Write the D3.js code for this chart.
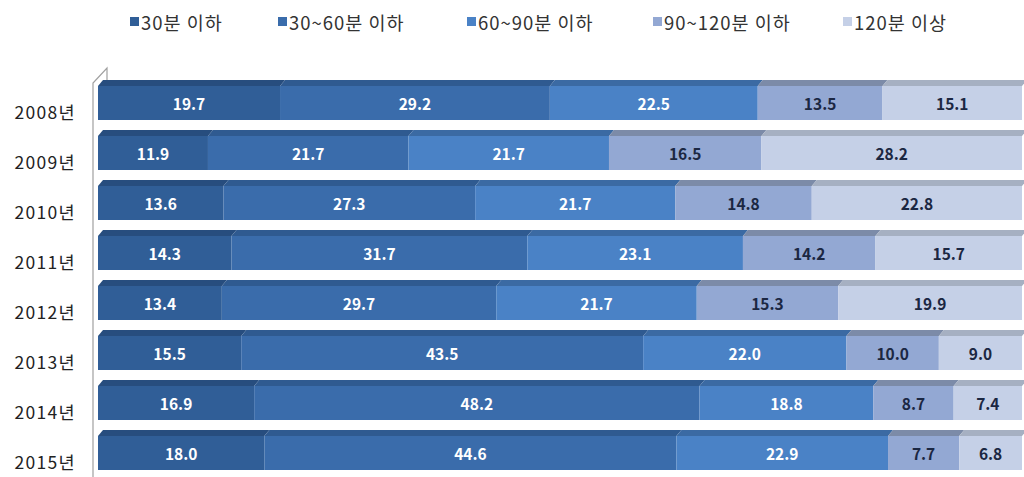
<!DOCTYPE html>
<html>
<head>
<meta charset="utf-8">
<script src="https://cdn.jsdelivr.net/npm/d3@7"></script>
<style>
  body { margin: 0; background: #fff; }
  #chart { width: 1024px; height: 477px; }
  text { font-family: "Noto Sans CJK KR", "Noto Sans", sans-serif; }
</style>
</head>
<body>
<div id="chart"></div>
<script>
const years = ['2008년', '2009년', '2010년', '2011년', '2012년', '2013년', '2014년', '2015년'];
const seriesNames = ['30분 이하', '30~60분 이하', '60~90분 이하', '90~120분 이하', '120분 이상'];
const under30 = [19.7, 11.9, 13.6, 14.3, 13.4, 15.5, 16.9, 18.0];
const from30to60 = [29.2, 21.7, 27.3, 31.7, 29.7, 43.5, 48.2, 44.6];
const from60to90 = [22.5, 21.7, 21.7, 23.1, 21.7, 22.0, 18.8, 22.9];
const from90to120 = [13.5, 16.5, 14.8, 14.2, 15.3, 10.0, 8.7, 7.7];
const over120 = [15.1, 28.2, 22.8, 15.7, 19.9, 9.0, 7.4, 6.8];

const frontCol = ['#305e97', '#3a6cab', '#4a82c6', '#93a8d3', '#c5d0e7'];
const topCol = ['#274d7e', '#2f5a90', '#3b6aa3', '#7c8ba8', '#a6b0c2'];
const labelCol = ['#ffffff', '#ffffff', '#ffffff', '#1b2742', '#1b2742'];

const seriesList = [under30, from30to60, from60to90, from90to120, over120];
const table = years.map((y, i) => {
  const row = { year: y };
  seriesList.forEach((s, k) => row[seriesNames[k]] = s[i]);
  return row;
});
// 100% stacked: each year is scaled to the full width
const stacked = d3.stack().keys(seriesNames).offset(d3.stackOffsetExpand)(table);

const svg = d3.select('#chart').append('svg')
  .attr('width', 1024).attr('height', 477);

const xScale = d3.scaleLinear().domain([0, 1]).range([98, 1022]);
const yScale = d3.scaleBand().domain(years).range([78, 478]).paddingInner(0.32).paddingOuter(0.16);
const depthX = 5, depthY = 6;

// back wall
svg.append('path')
  .attr('d', 'M93,477 L93,83 L107,68 L107,80')
  .attr('stroke', '#a0a0a0').attr('fill', 'none').attr('stroke-width', 1.2);

// year labels
svg.append('g').selectAll('text')
  .data(years)
  .join('text')
    .attr('x', 76)
    .attr('y', d => yScale(d) + yScale.bandwidth() / 2 + 8)
    .attr('text-anchor', 'end')
    .attr('dominant-baseline', 'central')
    .attr('font-size', 17.5)
    .attr('letter-spacing', 1.3)
    .attr('fill', '#222')
    .text(d => d);

const groups = svg.append('g').selectAll('g')
  .data(stacked)
  .join('g');

const cells = (s, k) => s.map((d, i) => ({ d, k, year: d.data.year, value: seriesList[k][i] }));

// top faces
groups.selectAll('path.top')
  .data(cells)
  .join('path')
    .attr('class', 'top')
    .attr('fill', o => topCol[o.k])
    .attr('d', o => {
      const x0 = xScale(o.d[0]), x1 = xScale(o.d[1]);
      const y = yScale(o.year);
      return `M${x0},${y} L${x0 + depthX},${y - depthY} L${x1 + depthX},${y - depthY} L${x1},${y} Z`;
    });

// front faces
groups.selectAll('rect')
  .data(cells)
  .join('rect')
    .attr('x', o => xScale(o.d[0]))
    .attr('y', o => yScale(o.year))
    .attr('width', o => xScale(o.d[1]) - xScale(o.d[0]))
    .attr('height', yScale.bandwidth())
    .attr('fill', o => frontCol[o.k]);

// value labels
groups.selectAll('text')
  .data(cells)
  .join('text')
    .attr('x', o => (xScale(o.d[0]) + xScale(o.d[1])) / 2)
    .attr('y', o => yScale(o.year) + yScale.bandwidth() / 2)
    .attr('text-anchor', 'middle')
    .attr('dominant-baseline', 'central')
    .attr('font-size', 15.5)
    .attr('font-weight', 'bold')
    .attr('fill', o => labelCol[o.k])
    .text(o => o.value.toFixed(1));

// legend
const legendX = [130, 278, 467, 653, 843];
const legend = svg.append('g').selectAll('g')
  .data(seriesNames)
  .join('g')
    .attr('transform', (d, i) => `translate(${legendX[i]}, 22)`);
legend.append('rect')
  .attr('x', 0).attr('y', -5).attr('width', 9).attr('height', 9)
  .attr('fill', (d, i) => frontCol[i]);
legend.append('text')
  .attr('x', 11).attr('y', 0)
  .attr('dominant-baseline', 'central')
  .attr('font-size', 18.5)
  .attr('letter-spacing', 1)
  .attr('fill', '#333')
  .text(d => d);
</script>
</body>
</html>
